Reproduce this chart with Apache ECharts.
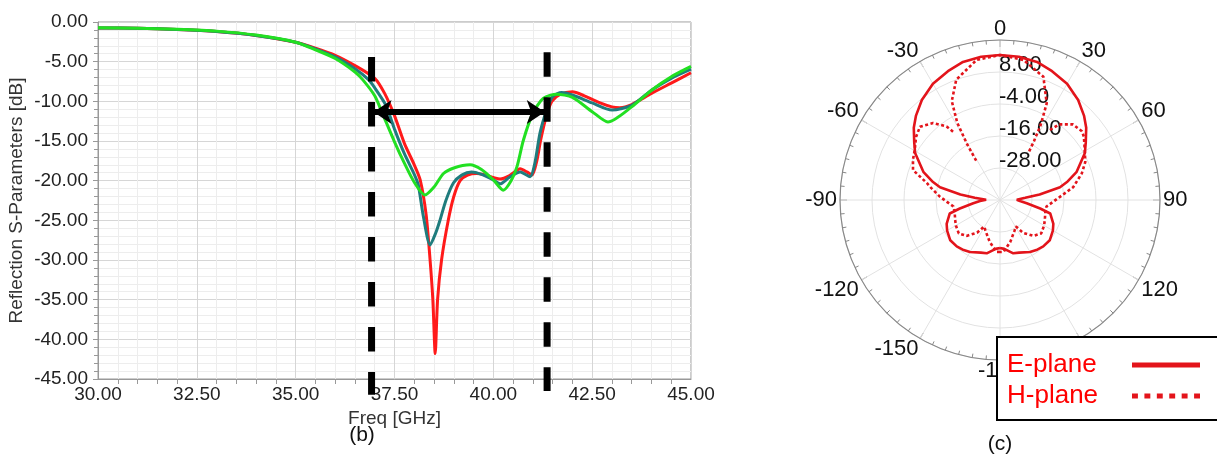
<!DOCTYPE html>
<html><head><meta charset="utf-8">
<script src="https://cdn.jsdelivr.net/npm/echarts/dist/echarts.min.js"></script>
<style>html,body{margin:0;padding:0;background:#fff}#c{width:1217px;height:457px}</style>
</head><body><div id="c"></div>
<script>
// ---------- (b) reflection S-parameters ----------
const redS11 = [[30,-0.75],[31,-0.8],[32,-0.95],[33,-1.2],[34,-1.7],[35,-2.55],[35.5,-3.3],[36,-4.2],[36.5,-5.5],[37,-7.1],[37.25,-9.0],[37.5,-11.8],[37.75,-15.3],[38,-18.0],[38.15,-19.9],[38.3,-24.3],[38.4,-30],[38.47,-35],[38.53,-41.8],[38.59,-35],[38.69,-30],[38.86,-25],[39.0,-22],[39.16,-20],[39.35,-19.3],[39.58,-19.1],[39.8,-19.3],[40.0,-19.6],[40.17,-19.8],[40.4,-19.4],[40.68,-18.5],[40.85,-18.9],[40.98,-19.3],[41.1,-17.5],[41.2,-14.8],[41.35,-11.7],[41.48,-10.0],[41.7,-9.1],[42.0,-8.8],[42.3,-9.3],[42.7,-10.2],[43.0,-10.7],[43.2,-10.8],[43.5,-10.4],[44.0,-9.0],[44.5,-7.7],[45.0,-6.4]];
const tealS11 = [[30,-0.75],[31,-0.8],[32,-0.95],[33,-1.2],[34,-1.7],[35,-2.55],[35.5,-3.4],[36,-4.4],[36.5,-5.9],[36.85,-7.3],[37.0,-8.3],[37.25,-10.2],[37.35,-11.35],[37.5,-13.5],[37.75,-16.6],[38.0,-19.2],[38.1,-20.5],[38.23,-24.5],[38.4,-28.1],[38.55,-26.5],[38.65,-25],[38.8,-22.5],[38.99,-20.3],[39.2,-19.3],[39.45,-18.9],[39.7,-19.2],[40.0,-19.9],[40.17,-20.4],[40.4,-19.6],[40.68,-18.9],[40.93,-19.5],[41.05,-17.8],[41.18,-14.0],[41.35,-11.1],[41.5,-9.4],[41.73,-8.9],[42.0,-9.2],[42.5,-10.2],[43.0,-11.1],[43.5,-10.5],[44.0,-8.6],[44.5,-7.1],[45.0,-5.95]];
const greenS11 = [[30,-0.72],[31,-0.78],[32,-0.92],[33,-1.15],[34,-1.65],[35,-2.55],[35.5,-3.5],[36,-4.6],[36.5,-6.3],[36.7,-7.3],[37.0,-9.3],[37.18,-11.35],[37.5,-15.1],[37.75,-17.8],[38.0,-20.2],[38.27,-21.8],[38.5,-20.8],[38.74,-19.1],[39.0,-18.4],[39.41,-18.0],[39.7,-18.6],[40.0,-19.9],[40.25,-21.2],[40.45,-20.0],[40.6,-18.2],[40.76,-14.9],[41.0,-11.5],[41.27,-9.6],[41.6,-9.1],[42.0,-9.5],[42.5,-11.3],[42.9,-12.6],[43.5,-10.7],[44.0,-8.6],[44.5,-6.9],[45.0,-5.6]];
const bandLeft = [[36.92,-4.4],[36.92,-47.0]];
const bandRight = [[41.36,-3.8],[41.36,-46.5]];
const bandArrow = [[36.97,-11.35],[41.30,-11.35]];

// ---------- (c) radiation pattern (angle in degrees, gain in dB) ----------
const ePlaneAngle = [-180,-175,-166,-160,-150,-144,-137,-129,-120,-114,-105,-102,-97,-93,-89,-85,-82,-78,-75,-70,-61,-56,-50,-45,-38,-30,-22,-15,-7.5,0,7.5,15,22,30,38,45,50,56,61,70,75,78,82,85,89,93,97,102,105,114,120,129,137,144,150,160,166,175,180];
const ePlaneGain  = [-22,-21.6,-19.4,-19,-17.5,-16.8,-16.2,-16,-17.1,-18.1,-20.5,-24.6,-29.9,-32.5,-34.8,-30.5,-25,-17,-14,-9.5,-3.6,-1.2,2.2,4.6,7.6,10.3,12.1,13.6,14.2,14.4,14.2,13.6,12.1,10.3,7.6,4.6,2.2,-1.2,-3.6,-9.5,-14,-17,-25,-30.5,-33.7,-32.5,-29.9,-24.6,-20.5,-18.1,-17.1,-16,-16.2,-16.8,-17.5,-19,-19.4,-21.6,-22];
const hPlaneAngle = [-180,-176,-166,-155,-149,-145,-137,-129,-120,-114,-105,-98,-92,-87,-80,-77,-71,-65,-59.5,-53,-47.5,-41,-36,-34.5,-32.5,-31.2,-30.5,-29,-26,-20,-9.5,0,9.5,19.4,25.8,28.5,30,31,32.5,35.5,38,44,50,53,61,66,72,80,87,92,98,105,114,120,129,137,145,149,155,166,176,180];
const hPlaneGain  = [-20.5,-20.5,-23.9,-27.2,-28.4,-25,-21.6,-20.1,-20.9,-21.6,-22.4,-22.4,-20.1,-17.5,-13.75,-11.9,-5.5,-4.0,-2.9,-0.6,0.7,-1.75,-5.9,-8.9,null,-22.75,-15.6,-7,1.25,8.0,13.25,14.4,13.25,9.0,0.24,-8.1,-14.5,-19,null,-7.75,-4,-0.6,0.1,-0.6,-3.6,-5.0,-7.75,-12.1,-17.5,-20.1,-22.4,-22.4,-21.6,-20.9,-20.1,-21.6,-25,-28.4,-27.2,-23.9,-20.5,-20.5];
const legendNames = ['E-plane','H-plane'];

// angle axis runs 0..360 clockwise from the top; negative angles are wrapped
const toPolar = (ang, val) => ang.map((a, i) => [val[i] == null ? '-' : val[i], a < 0 ? a + 360 : a]);

const chart = echarts.init(document.getElementById('c'), null, {renderer: 'canvas'});
const FONT = 'Liberation Sans, Arial, sans-serif';
const curve = (name, data, color, z) => ({
  name, type: 'line', data, symbol: 'none', smooth: 0.25, z,
  lineStyle: {color, width: 3}, itemStyle: {color}, silent: true, animation: false
});
const band = (data) => ({
  type: 'line', data, symbol: 'none', clip: false, z: 5, silent: true, animation: false,
  lineStyle: {color: '#000', width: 7, type: [24.5, 20.5], cap: 'butt'}
});

chart.setOption({
  animation: false,
  textStyle: {fontFamily: FONT},
  grid: {left: 98, top: 22, width: 593, height: 357, show: true, borderColor: '#999', borderWidth: 1, containLabel: false},
  xAxis: {
    type: 'value', min: 30, max: 45, interval: 2.5,
    name: 'Freq [GHz]', nameLocation: 'middle', nameGap: 26,
    nameTextStyle: {fontSize: 19, color: '#333', fontFamily: FONT},
    axisLine: {onZero: false, lineStyle: {color: '#999'}},
    axisTick: {show: false},
    minorTick: {show: true, splitNumber: 5, length: 5, lineStyle: {color: '#999'}},
    axisLabel: {fontSize: 19, color: '#222', margin: 6, formatter: v => v.toFixed(2), fontFamily: FONT},
    splitLine: {lineStyle: {color: '#d6d6d6'}},
    minorSplitLine: {show: true, lineStyle: {color: '#ededed'}}
  },
  yAxis: {
    type: 'value', min: -45, max: 0, interval: 5,
    name: 'Reflection S-Parameters [dB]', nameLocation: 'middle', nameGap: 72,
    nameTextStyle: {fontSize: 19, color: '#333', fontFamily: FONT},
    axisLine: {onZero: false, lineStyle: {color: '#999'}},
    axisTick: {show: true, length: 5, lineStyle: {color: '#999'}},
    minorTick: {show: true, splitNumber: 5, length: 4, lineStyle: {color: '#999'}},
    axisLabel: {fontSize: 19, color: '#222', margin: 10, formatter: v => (Math.abs(v) < 1e-9 ? 0 : v).toFixed(2), fontFamily: FONT},
    splitLine: {lineStyle: {color: '#d6d6d6'}},
    minorSplitLine: {show: true, lineStyle: {color: '#ededed'}}
  },
  polar: {center: [1000, 200], radius: 160},
  angleAxis: {
    type: 'value', min: 0, max: 360, interval: 30, startAngle: 90, clockwise: true,
    axisLine: {lineStyle: {color: '#888', width: 1.2}},
    axisTick: {show: true, inside: true, length: 7, lineStyle: {color: '#888'}},
    minorTick: {show: true, splitNumber: 6, length: 4, lineStyle: {color: '#888'}},
    axisLabel: {fontSize: 22, color: '#111', margin: 3, lineHeight: 16, fontFamily: FONT,
      formatter: v => String(v >= 180 ? v - 360 : v)},
    splitLine: {show: true, lineStyle: {color: '#e2e2e2'}}
  },
  radiusAxis: {
    type: 'value', min: -40, max: 20, interval: 12,
    axisLine: {show: false}, axisTick: {show: false},
    axisLabel: {inside: true, margin: 1, fontSize: 22, lineHeight: 15, color: '#111', verticalAlign: 'bottom', align: 'left', fontFamily: FONT,
      formatter: v => (v <= -40 || v >= 20) ? '' : v.toFixed(2)},
    splitLine: {show: true, lineStyle: {color: '#e2e2e2'}}
  },
  legend: {
    data: [
      {name: legendNames[0], icon: 'rect'},
      {name: legendNames[1], icon: 'path://M0,0h6v5h-6zM12.6,0h6v5h-6zM25.2,0h6v5h-6zM37.8,0h6v5h-6zM50.4,0h6v5h-6zM63,0h6v5h-6z'}
    ],
    orient: 'vertical', left: 997, top: 337, align: 'right',
    itemWidth: 68, itemHeight: 5, itemGap: 5,
    padding: [15, 20, 11, 10],
    backgroundColor: '#fff', borderColor: '#000', borderWidth: 2, borderRadius: 0,
    itemStyle: {borderWidth: 0},
    formatter: '{a|{name}}',
    textStyle: {color: '#ff0000', fontSize: 26, fontFamily: FONT,
      rich: {a: {width: 120, align: 'left', fontSize: 26, color: '#ff0000', fontFamily: FONT}}},
    selectedMode: false, z: 10
  },
  graphic: [
    {type: 'text', x: 362, y: 435, z: 10, style: {text: '(b)', fontSize: 21, fill: '#111', textAlign: 'center', textVerticalAlign: 'middle', fontFamily: FONT}},
    {type: 'text', x: 1000, y: 444, z: 10, style: {text: '(c)', fontSize: 21, fill: '#111', textAlign: 'center', textVerticalAlign: 'middle', fontFamily: FONT}}
  ],
  series: [
    curve('s11-a', redS11, '#ff1a1a', 2),
    curve('s11-b', tealS11, '#1f7c7d', 3),
    curve('s11-c', greenS11, '#22e022', 4),
    band(bandLeft),
    Object.assign(band(bandRight), {
      markLine: {
        silent: true, symbol: ['arrow', 'arrow'], symbolSize: 18, animation: false,
        label: {show: false},
        lineStyle: {color: '#000', width: 6, type: 'solid'},
        data: [[{coord: bandArrow[0]}, {coord: bandArrow[1]}]]
      }
    }),
    {name: legendNames[0], type: 'line', coordinateSystem: 'polar', data: toPolar(ePlaneAngle, ePlaneGain),
      symbol: 'none', lineStyle: {color: '#e3141b', width: 2.6}, itemStyle: {color: '#e3141b'}, silent: true, z: 3},
    {name: legendNames[1], type: 'line', coordinateSystem: 'polar', data: toPolar(hPlaneAngle, hPlaneGain),
      symbol: 'none', connectNulls: false, lineStyle: {color: '#e3141b', width: 2.6, type: [3, 2.5]}, itemStyle: {color: '#e3141b'}, silent: true, z: 3}
  ]
});
</script></body></html>
